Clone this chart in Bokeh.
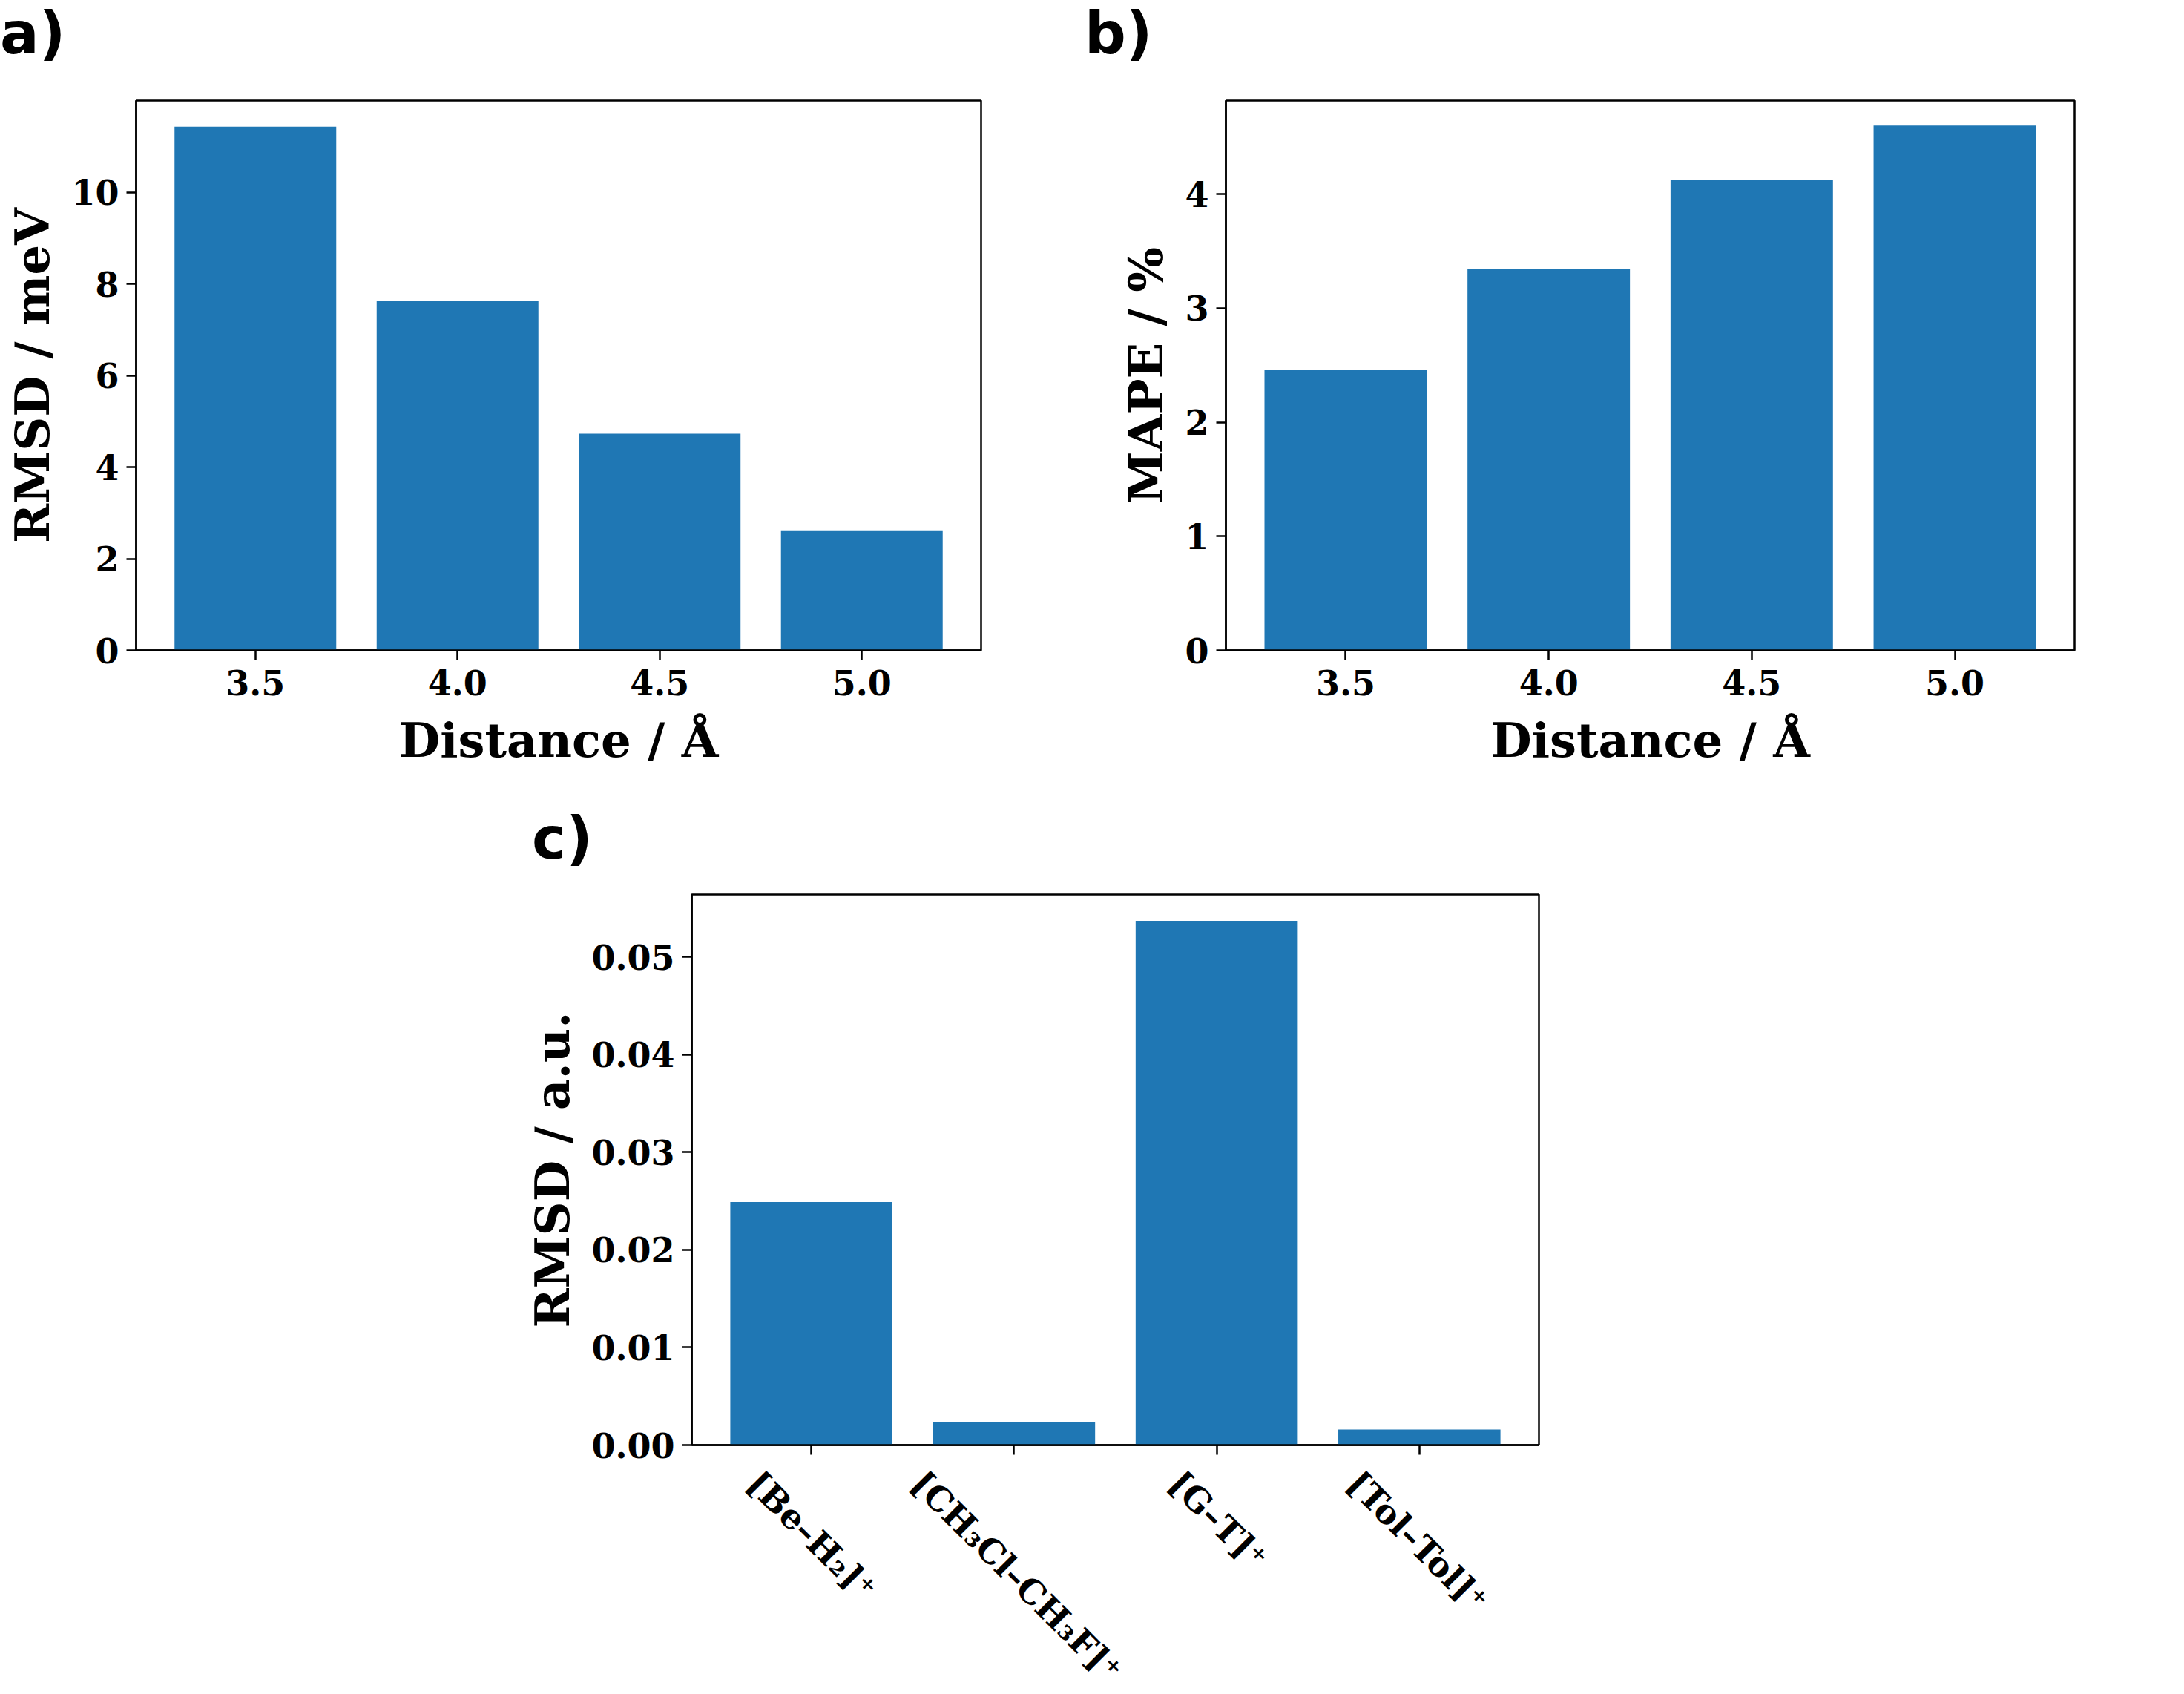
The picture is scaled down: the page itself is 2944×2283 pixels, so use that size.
import math
from bokeh.plotting import figure
from bokeh.layouts import column, row
from bokeh.models import (Range1d, FixedTicker, NumeralTickFormatter, Spacer, LinearAxis,
                          CustomJSTickFormatter, Div)
from bokeh.embed import file_html
from bokeh.resources import INLINE

# ---- data ----
distances = [3.5, 4.0, 4.5, 5.0]
rmsd_mev = [11.43, 7.62, 4.73, 2.62]
mape_pct = [2.46, 3.34, 4.12, 4.60]
systems = ["[Be–H₂]⁺", "[CH₃Cl–CH₃F]⁺", "[G–T]⁺", "[Tol–Tol]⁺"]
rmsd_au = [0.0249, 0.0024, 0.0537, 0.0016]

BAR = "#1f77b4"
SERIF = "DejaVu Serif"
TICK_FS = "46px"
CAT_FS = "46px"
LABEL_FS = "64px"
LW = 2.5
DIV_H = 91


def style(p):
    p.xgrid.visible = False
    p.ygrid.visible = False
    p.outline_line_color = "black"
    p.outline_line_width = LW
    p.outline_line_alpha = 1.0
    for ax in (p.xaxis, p.yaxis):
        ax.axis_line_width = LW
        ax.major_tick_line_width = LW
        ax.major_tick_in = 0
        ax.major_tick_out = 13
        ax.minor_tick_line_color = None
        ax.major_label_text_font = SERIF
        ax.major_label_text_font_style = "bold"
        ax.major_label_text_font_size = TICK_FS
        ax.major_label_text_color = "black"
        ax.axis_label_text_font = SERIF
        ax.axis_label_text_font_style = "bold"
        ax.axis_label_text_font_size = LABEL_FS
        ax.axis_label_text_color = "black"
        ax.major_label_standoff = 10
        ax.axis_label_standoff = 12
    p.xaxis.major_label_standoff = 13
    p.xaxis.axis_label_standoff = 20
    p.background_fill_color = "white"
    p.border_fill_color = "white"


def panel_div(text, width, pad_left=0):
    return Div(text=text, width=width, height=DIV_H, margin=(0, 0, 0, 0),
               styles={"font-family": "DejaVu Sans", "font-weight": "bold",
                       "font-size": "78px", "line-height": f"{DIV_H}px", "color": "black",
                       "padding-left": f"{pad_left}px", "margin": "0",
                       "white-space": "nowrap"})


# ---- panel a ----
FW_A, FH1 = 1139, 741
pa = figure(frame_width=FW_A, frame_height=FH1, output_backend="svg", toolbar_location=None,
            x_range=Range1d(3.205, 5.295), y_range=Range1d(0, 12.0),
            min_border_left=183, min_border_right=138, min_border_top=44, min_border_bottom=209)
pa.vbar(x=distances, top=rmsd_mev, width=0.4, color=BAR, line_color=None)
style(pa)
pa.xaxis.ticker = FixedTicker(ticks=distances)
pa.xaxis.formatter = NumeralTickFormatter(format="0.0")
pa.yaxis.ticker = FixedTicker(ticks=[0, 2, 4, 6, 8, 10])
pa.xaxis.axis_label = "Distance / Å"
pa.yaxis.axis_label = "RMSD / meV"

# ---- panel b ----
FW_B = 1144
pb = figure(frame_width=FW_B, frame_height=FH1, output_backend="svg", toolbar_location=None,
            x_range=Range1d(3.205, 5.295), y_range=Range1d(0, 4.82),
            min_border_left=192, min_border_right=120, min_border_top=44, min_border_bottom=209)
pb.vbar(x=distances, top=mape_pct, width=0.4, color=BAR, line_color=None)
style(pb)
pb.xaxis.ticker = FixedTicker(ticks=distances)
pb.xaxis.formatter = NumeralTickFormatter(format="0.0")
pb.yaxis.ticker = FixedTicker(ticks=[0, 1, 2, 3, 4])
pb.xaxis.axis_label = "Distance / Å"
pb.yaxis.axis_label = "MAPE / %"

# ---- panel c ----
FW_C, FH2 = 1142, 742
xs = list(range(len(systems)))
pc = figure(frame_width=FW_C, frame_height=FH2, output_backend="svg", toolbar_location=None,
            x_range=Range1d(-0.59, 3.59), y_range=Range1d(0, 0.0564),
            min_border_left=225, min_border_right=200, min_border_top=29, min_border_bottom=328)
pc.vbar(x=xs, top=rmsd_au, width=0.8, color=BAR, line_color=None)
style(pc)
pc.xaxis.ticker = FixedTicker(ticks=xs)
pc.xaxis.major_label_overrides = {i: "" for i in xs}
pc.xaxis.major_label_standoff = 0
pc.xaxis.major_label_text_font_size = "1px"
pc.yaxis.ticker = FixedTicker(ticks=[0, 0.01, 0.02, 0.03, 0.04, 0.05])
pc.yaxis.formatter = NumeralTickFormatter(format="0.00")
pc.yaxis.axis_label = "RMSD / a.u."

# rotated category labels: a second, line-less axis whose label anchors are moved left
# by half the rotated text's span, so each label is centred under its tick
px_per_unit = FW_C / (pc.x_range.end - pc.x_range.start)
cat_shift_px = [78, 130, 56, 89]
label_pos = [x - s / px_per_unit for x, s in zip(xs, cat_shift_px)]
cat_axis = LinearAxis(ticker=FixedTicker(ticks=label_pos),
                      formatter=CustomJSTickFormatter(args=dict(names=systems),
                                                      code="return names[index];"))
cat_axis.axis_line_color = None
cat_axis.major_tick_line_color = None
cat_axis.minor_tick_line_color = None
cat_axis.major_tick_out = 0
cat_axis.major_tick_in = 0
cat_axis.major_label_standoff = 31
cat_axis.major_label_orientation = -math.pi / 4
cat_axis.major_label_text_font = SERIF
cat_axis.major_label_text_font_style = "bold"
cat_axis.major_label_text_font_size = CAT_FS
cat_axis.major_label_text_color = "black"
pc.add_layout(cat_axis, "below")

# ---- panel letters and layout ----
div_a = panel_div("a)", 1462)
div_b = panel_div("b)", 1400)
div_c = panel_div("c)", 400, pad_left=13)

layout = column(row(div_a, div_b), row(pa, pb),
                row(Spacer(width=704, height=10), column(div_c, pc)))
open("out.html", "w").write(file_html(layout, INLINE))
